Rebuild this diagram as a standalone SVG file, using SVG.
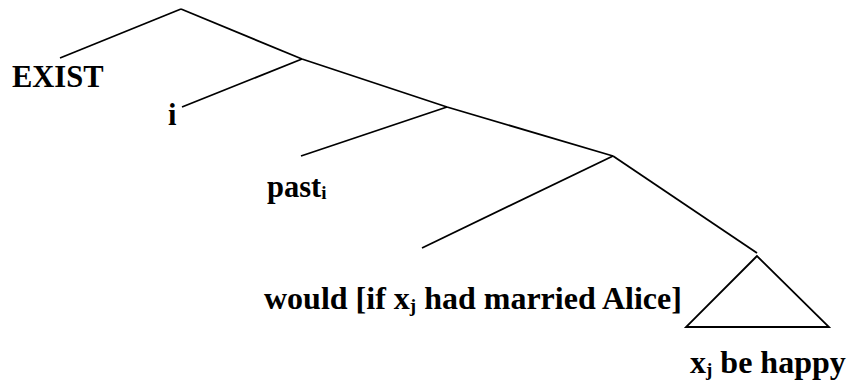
<svg xmlns="http://www.w3.org/2000/svg" width="847" height="389" viewBox="0 0 847 389">
<style>
text{font-family:'Liberation Serif','Times New Roman','DejaVu Serif',serif;font-weight:bold;font-size:30.5px;fill:#000}
.big{font-size:32px}
.sub{font-size:19px}
.ln{stroke:#000;stroke-width:1.8;fill:none;stroke-linecap:butt}
</style>
<rect width="847" height="389" fill="#fff"/>
<g id="connectors">
<line class="ln" x1="181" y1="9" x2="60" y2="58"/>
<line class="ln" x1="181" y1="9" x2="302" y2="59"/>
<line class="ln" x1="302" y1="59" x2="182" y2="107"/>
<line class="ln" x1="302" y1="59" x2="447" y2="107"/>
<line class="ln" x1="447" y1="107" x2="301" y2="156"/>
<line class="ln" x1="447" y1="107" x2="613" y2="156"/>
<line class="ln" x1="613" y1="156" x2="422" y2="248"/>
<line class="ln" x1="613" y1="156" x2="757" y2="253"/>
</g>
<g id="node-exist"><text x="12" y="87">EXIST</text></g>
<g id="node-i"><text x="168" y="125">i</text></g>
<g id="node-past"><text x="267" y="197">past<tspan class="sub" dy="2">i</tspan></text></g>
<g id="node-would"><text class="big" x="264" y="309">would [if x<tspan class="sub" dy="3">j</tspan><tspan dy="-3"> had married Alice]</tspan></text></g>
<g id="node-happy">
<polygon class="ln" points="757,256 686,327 829,327"/>
<text class="big" x="690" y="373">x<tspan class="sub" dy="3">j</tspan><tspan dy="-3"> be happy</tspan></text>
</g>
</svg>
